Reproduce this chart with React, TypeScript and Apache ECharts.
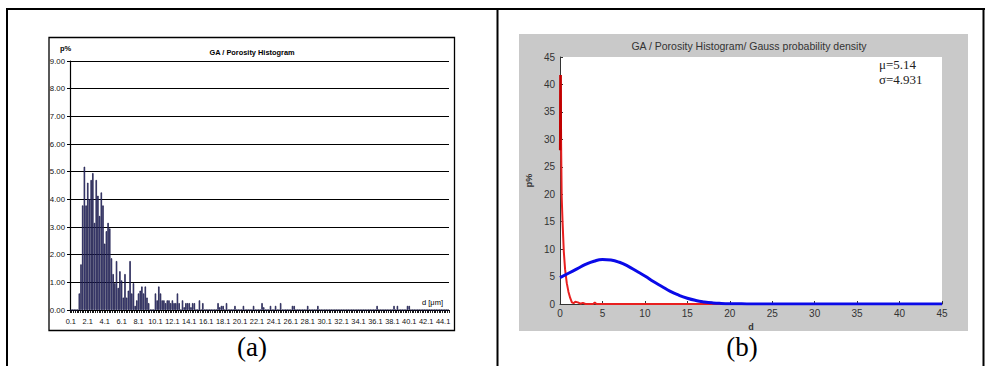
import { useEffect, useRef } from "react";
import * as echarts from "echarts";

// ---------- Panel (a): histogram ----------
const histStart = 0.1;
const histStep = 0.2;
const histCount = 224; // bins 0.1 ... 44.7
// bins 0.1 ... 15.9
const histDense = [
  0, 0, 0, 0, 0,
  0.6, 1.65, 3.78, 5.18, 3.78,
  4.6, 4.0, 4.7, 4.95, 3.15,
  4.7, 4.13, 3.4, 4.25, 3.78,
  2.4, 2.85, 3.15, 2.95, 1.87,
  1.3, 0.97, 1.77, 0.8, 1.4,
  1.07, 0.45, 1.3, 0.45, 0.7,
  1.77, 0.6, 0.97, 0.15, 0.35,
  0.6, 0.7, 0.85, 0.6, 0.85,
  0.45, 0.25, 0, 0, 0,
  0.6, 0.35, 0.85, 0.6, 0.35,
  0.35, 0.25, 0.35, 0.35, 0.25,
  0.35, 0.25, 0.25, 0.6, 0.25,
  0, 0.35, 0.1, 0.25, 0.25,
  0.25, 0.1, 0.25, 0.25, 0,
  0, 0.35, 0, 0.25, 0,
];
// sparse tail: [bin, value]
const histTailBins = [17.5, 17.7, 17.9, 18.1, 18.5, 19.5, 20.5, 21.7, 22.7, 22.9, 23.7, 24.3, 24.9, 26.3, 26.5, 28.1, 29.3, 36.3, 38.3, 38.7, 39.9, 40.1];
const histTailValues = [0.25, 0.1, 0.15, 0.15, 0.25, 0.15, 0.15, 0.15, 0.25, 0.1, 0.15, 0.15, 0.25, 0.15, 0.15, 0.15, 0.15, 0.15, 0.15, 0.15, 0.15, 0.15];

// ---------- Panel (b): curves ----------
const redX = [0, 0.08, 0.12, 0.2, 0.3, 0.45, 0.6, 0.8, 1.0, 1.2, 1.4, 1.6, 1.8, 2.1, 2.4, 2.7, 3.0, 3.9, 4.1, 4.3, 45];
const redY = [28.5, 41.7, 30.5, 19.5, 15, 9.5, 6.3, 3.8, 2.2, 1.1, 0.3, 0.15, 0.4, 0.3, 0.05, 0.2, 0, 0, 0.25, 0, 0];
const redSpikeX = [0.02, 0.06, 0.1];
const redSpikeY = [28, 41.7, 30];
const blueX = [0, 1, 2, 3, 4, 5, 6, 7, 8, 9, 10, 11, 12, 13, 14, 15, 16, 17, 18, 19, 20, 22, 25, 30, 35, 40, 45];
const blueY = [4.8, 5.6, 6.4, 7.2, 7.8, 8.1, 8.0, 7.6, 6.9, 6.0, 5.1, 4.1, 3.2, 2.3, 1.6, 1.05, 0.65, 0.38, 0.2, 0.1, 0.05, 0.02, 0, 0, 0, 0, 0];

const sans = "'Liberation Sans', Arial, sans-serif";
const plain = "'Liberation Sans', Arial, sans-serif";
const serif = "'Liberation Serif', 'Times New Roman', serif";

function txt(text: string, x: number, y: number, size: number, extra: any = {}) {
  return {
    type: "text",
    x,
    y,
    z: 50,
    silent: true,
    style: {
      text,
      fontSize: size,
      fontFamily: extra.fontFamily || sans,
      fontWeight: extra.fontWeight || "normal",
      fill: extra.fill || "#000",
      align: extra.align || "center",
      verticalAlign: "middle",
      textAlign: extra.align || "center",
      textVerticalAlign: "middle",
    },
  };
}

function line(x1: number, y1: number, x2: number, y2: number, w: number) {
  return {
    type: "line",
    z: 50,
    silent: true,
    shape: { x1, y1, x2, y2 },
    style: { stroke: "#000", lineWidth: w },
  };
}

export default function App() {
  const ref = useRef<HTMLDivElement>(null);
  useEffect(() => {
    if (!ref.current) return;
    const chart = echarts.init(ref.current, undefined, { renderer: "svg" });

    const cats: string[] = [];
    const values: number[] = [];
    for (let i = 0; i < histCount; i++) {
      cats.push((histStart + i * histStep).toFixed(1));
      values.push(i < histDense.length ? histDense[i] : 0);
    }
    histTailBins.forEach((b, k) => {
      const idx = Math.round((b - histStart) / histStep);
      values[idx] = histTailValues[k];
    });
    const red = redX.map((x, i) => [x, redY[i]]);
    const redSpike = redSpikeX.map((x, i) => [x, redSpikeY[i]]);
    const blue = blueX.map((x, i) => [x, blueY[i]]);

    chart.setOption({
      animation: false,
      backgroundColor: "#fff",
      grid: [
        { left: 70, top: 61, width: 379, height: 249 },
        { left: 560, top: 57, width: 382, height: 247, show: true, backgroundColor: "#fff", borderWidth: 0 },
      ],
      xAxis: [
        {
          gridIndex: 0,
          type: "category",
          data: cats,
          boundaryGap: true,
          axisLine: { lineStyle: { color: "#000", width: 1.2 } },
          axisTick: { show: true, interval: 0, length: 3, lineStyle: { color: "#000", width: 0.9 } },
          axisLabel: { interval: 9, fontSize: 7.4, color: "#111", margin: 8, fontFamily: sans },
          splitLine: { show: false },
        },
        {
          gridIndex: 1,
          type: "value",
          min: 0,
          max: 45,
          interval: 5,
          name: "d",
          nameLocation: "middle",
          nameGap: 16,
          nameTextStyle: { fontSize: 9, color: "#333", fontFamily: plain, fontWeight: "bold" },
          axisLine: { lineStyle: { color: "#333", width: 1 } },
          axisTick: { show: true, inside: true, length: 3, lineStyle: { color: "#333" } },
          axisLabel: { fontSize: 10, color: "#333", margin: 4, fontFamily: plain },
          splitLine: { show: false },
        },
      ],
      yAxis: [
        {
          gridIndex: 0,
          type: "value",
          min: 0,
          max: 9,
          interval: 1,
          axisLine: { show: true, lineStyle: { color: "#000", width: 1.2 } },
          axisTick: { show: true, length: 3, lineStyle: { color: "#000" } },
          axisLabel: { fontSize: 7.8, color: "#111", margin: 5, fontFamily: sans, formatter: (v: number) => v.toFixed(2) },
          splitLine: { show: true, lineStyle: { color: "#000", width: 1 } },
        },
        {
          gridIndex: 1,
          type: "value",
          min: 0,
          max: 45,
          interval: 5,
          name: "p%",
          nameLocation: "middle",
          nameGap: 27,
          nameRotate: 90,
          nameTextStyle: { fontSize: 9, color: "#333", fontFamily: plain, fontWeight: "bold" },
          axisLine: { show: true, lineStyle: { color: "#333", width: 1 } },
          axisTick: { show: true, inside: true, length: 3, lineStyle: { color: "#333" } },
          axisLabel: { fontSize: 10, color: "#333", margin: 5, fontFamily: plain },
          splitLine: { show: false },
        },
      ],
      series: [
        {
          type: "bar",
          xAxisIndex: 0,
          yAxisIndex: 0,
          data: values,
          barCategoryGap: "15%",
          itemStyle: { color: "#5a5ac4", borderColor: "#12123a", borderWidth: 0.7 },
        },
        {
          type: "line",
          xAxisIndex: 1,
          yAxisIndex: 1,
          data: red,
          showSymbol: false,
          lineStyle: { color: "#e82020", width: 2 },
        },
        {
          type: "line",
          xAxisIndex: 1,
          yAxisIndex: 1,
          data: redSpike,
          showSymbol: false,
          lineStyle: { color: "#c00000", width: 2.5 },
        },
        {
          type: "line",
          xAxisIndex: 1,
          yAxisIndex: 1,
          data: blue,
          smooth: true,
          showSymbol: false,
          lineStyle: { color: "#0a0ae8", width: 3 },
        },
      ],
      graphic: [
        {
          type: "rect",
          z: -10,
          silent: true,
          shape: { x: 519, y: 34, width: 449, height: 297 },
          style: { fill: "#c9c9c9" },
        },
        {
          type: "rect",
          z: 50,
          silent: true,
          shape: { x: 49, y: 37.5, width: 405.5, height: 293 },
          style: { fill: "none", stroke: "#000", lineWidth: 1.3 },
        },
        line(6, 9, 985, 9, 2),
        line(7, 9, 7, 366, 2),
        line(497.5, 9, 497.5, 366, 2),
        line(983.5, 9, 983.5, 366, 2),
        txt("GA / Porosity Histogram", 252, 52, 7.4, { fontWeight: "bold" }),
        txt("p%", 65.5, 48.5, 7.5, { fontWeight: "bold" }),
        txt("d [μm]", 432.5, 302, 7.5),
        txt("GA / Porosity Histogram/ Gauss probability density", 749, 45.5, 10.5, { fontFamily: plain, fill: "#333" }),
        txt("μ=5.14", 879, 64, 13, { fontFamily: serif, fill: "#222", align: "left" }),
        txt("σ=4.931", 879, 79, 13, { fontFamily: serif, fill: "#222", align: "left" }),
        txt("(a)", 252, 347, 27, { fontFamily: serif, fill: "#000" }),
        txt("(b)", 742, 347, 27, { fontFamily: serif, fill: "#000" }),
      ],
    });
    return () => chart.dispose();
  }, []);
  return <div ref={ref} style={{ position: "absolute", left: 0, top: 0, width: 987, height: 366 }} />;
}
